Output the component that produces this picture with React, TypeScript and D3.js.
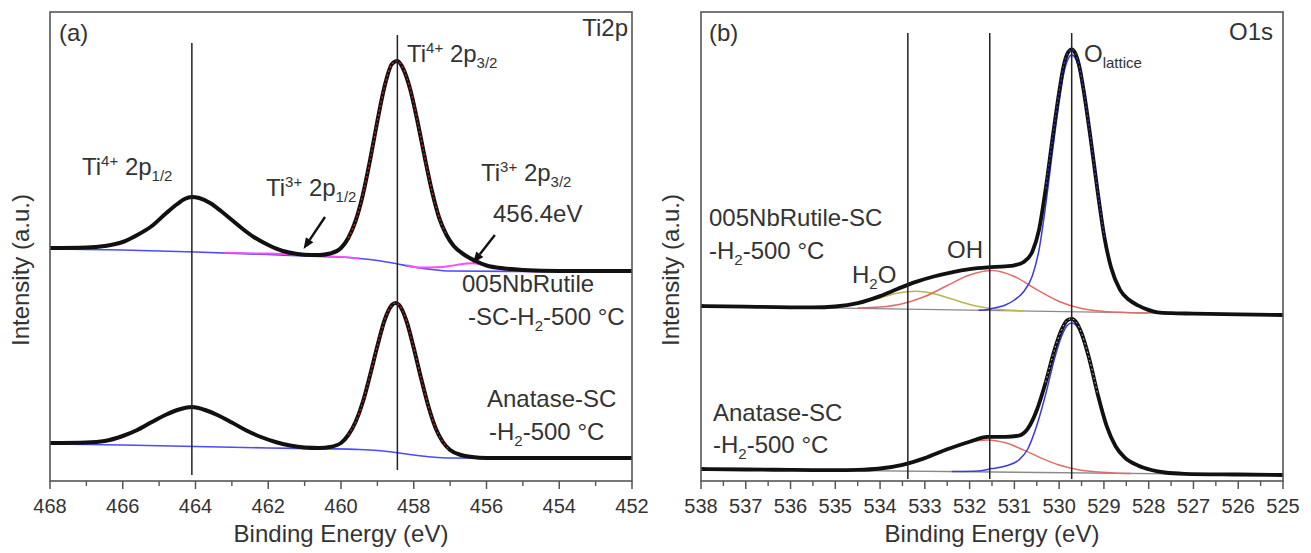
import React from 'react';
import * as d3 from 'd3';

type Pt = [number, number];

// ---- panel (a) Ti2p ----
const tiTicks = [468, 466, 464, 462, 460, 458, 456, 454, 452];
const tiPeakLines = [464.1, 458.45];

// 005NbRutile-SC-H2-500 (upper trace)
const tiNbData: Pt[] = [
  [468, 233], [467, 233.5], [466.5, 235], [466, 239], [465.6, 246], [465.2, 255], [464.8, 268],
  [464.5, 277], [464.3, 282], [464.1, 284], [463.9, 283], [463.6, 278], [463.3, 270], [463, 261],
  [462.7, 252], [462.4, 244], [462, 236], [461.6, 230], [461.2, 227], [460.8, 226], [460.6, 226],
  [460.3, 227.5], [460, 233], [459.8, 243], [459.6, 260], [459.4, 286], [459.2, 321], [459, 360],
  [458.8, 395], [458.6, 417], [458.45, 420], [458.3, 413], [458.1, 392], [457.9, 360], [457.7, 324],
  [457.5, 290], [457.3, 263], [457.1, 246], [456.9, 235], [456.6, 226], [456.3, 220], [456, 215.5],
  [455.5, 212.5], [455, 211], [454, 210], [452, 210],
];
const tiNbBackground: Pt[] = [
  [468, 232], [466, 231], [464, 229], [462, 226.5], [461, 225], [460, 224], [459.5, 222.5],
  [459, 220.5], [458.5, 217.5], [458, 214], [457.5, 211.5], [457, 210], [455, 209.5], [452, 209.5],
];
const tiNbTi3Low: Pt[] = [
  [463.2, 228.3], [462.6, 227.8], [462, 227.5], [461.5, 226.8], [461, 225.8], [460.5, 224.8],
  [460, 224.2], [459.5, 222.6],
];
const tiNbTi3High: Pt[] = [
  [458.2, 215.8], [457.8, 213.5], [457.4, 213.7], [457, 215], [456.7, 216.8], [456.4, 217.7],
  [456.1, 216.2], [455.8, 213.6], [455.4, 211], [455, 210], [454.6, 209.6],
];

// Anatase-SC-H2-500 (lower trace)
const tiAnaData: Pt[] = [
  [468, 38], [467, 38.5], [466.5, 40], [466, 45], [465.6, 51], [465.2, 59], [464.8, 66.5],
  [464.5, 71], [464.1, 74], [463.7, 70.5], [463.4, 66], [463, 58.5], [462.6, 50.5], [462.2, 44],
  [461.8, 39], [461.4, 35.5], [461, 33.5], [460.6, 33], [460.3, 34], [460, 38], [459.8, 46],
  [459.6, 59], [459.4, 79], [459.2, 106], [459, 135], [458.8, 161], [458.6, 176], [458.5, 178],
  [458.4, 176], [458.2, 160], [458, 133], [457.8, 103], [457.6, 75], [457.4, 53], [457.2, 39],
  [457, 31], [456.7, 26], [456.4, 24], [456, 23], [455, 23], [452, 23],
];
const tiAnaBackground: Pt[] = [
  [468, 37], [466, 36], [464, 34.5], [462, 33], [460.5, 32.2], [459.5, 31.5], [459, 30.5],
  [458.5, 28.5], [458, 26], [457.5, 24], [457, 23], [452, 22.5],
];

// ---- panel (b) O1s ----
const oTicks = [538, 537, 536, 535, 534, 533, 532, 531, 530, 529, 528, 527, 526, 525];
const oPeakLines = [533.38, 531.55, 529.72];

const oNbData: Pt[] = [
  [538, 175], [537, 174.3], [536, 173.7], [535.5, 173.6], [535, 174.5], [534.5, 177.8], [534, 184.9],
  [533.6, 192.3], [533.2, 199.1], [532.8, 204.5], [532.4, 208.7], [532, 211.9], [531.6, 213.7],
  [531.2, 214.6], [531, 215.7], [530.8, 218.8], [530.6, 229.3], [530.45, 251.2], [530.3, 292.4],
  [530.15, 342], [530, 389], [529.9, 415.2], [529.8, 428.7], [529.72, 431.6], [529.64, 427.7],
  [529.54, 412.7], [529.44, 386.9], [529.29, 340], [529.14, 289.3], [528.99, 243.8], [528.84, 213.5],
  [528.64, 191.2], [528.44, 181.2], [528.24, 175.6], [528.04, 171.6], [527.8, 168.6], [527.5, 167.8],
  [527, 167.4], [526, 166.7], [525, 166],
];
const oNbLattice: Pt[] = [
  [531.8, 170.7], [531.6, 171.5], [531.4, 173.5], [531.2, 176], [531, 181], [530.8, 189], [530.6, 205],
  [530.45, 231], [530.3, 276], [530.15, 329], [530, 379], [529.9, 407], [529.8, 422], [529.72, 426],
  [529.64, 423], [529.54, 409], [529.44, 384], [529.29, 338], [529.14, 288], [528.99, 243], [528.84, 213],
  [528.64, 191], [528.44, 181], [528.24, 175.5], [528.04, 171.5], [527.8, 168.5], [527.5, 167.7], [527, 167.4],
];
const oNbOH: Pt[] = [
  [534.5, 173], [534, 174], [533.5, 177.3], [533, 184.5], [532.5, 195.5], [532, 206], [531.5, 210.5],
  [531, 204.5], [530.5, 191.4], [530, 179.5], [529.5, 172.5], [529, 169.6], [528.5, 168.6], [528, 168.1],
];
const oNbH2O: Pt[] = [
  [536.5, 174], [535.5, 173.6], [535, 174.4], [534.5, 177.4], [534, 183.1], [533.6, 187.9], [533.2, 189.7],
  [532.8, 187.3], [532.4, 182], [532, 176.6], [531.6, 173], [531.2, 171.1], [530.8, 170.2],
];
const oNbBase: Pt[] = [[538, 175], [525, 166]];

const oAnaData: Pt[] = [
  [538, 12], [537, 11.5], [536, 11.1], [535.5, 10.9], [535, 10.8], [534.5, 11.1], [534, 12.5],
  [533.5, 16.2], [533, 22.9], [532.5, 31.7], [532, 39.3], [531.6, 44.1], [531.2, 44.2], [530.9, 45.4],
  [530.7, 52.4], [530.5, 70.8], [530.3, 98.8], [530.1, 131.6], [529.95, 150.9], [529.82, 160.7],
  [529.72, 162.2], [529.62, 158.9], [529.49, 146.5], [529.34, 124.3], [529.14, 87], [528.94, 55.1],
  [528.74, 34.8], [528.54, 23.6], [528.24, 15.5], [527.94, 11], [527.64, 8.5], [527.2, 7.2],
  [526, 6.5], [525, 6],
];
const oAnaLattice: Pt[] = [
  [532.4, 9.4], [531.8, 10], [531.5, 12.4], [531.2, 15], [530.9, 21], [530.7, 32], [530.5, 55.4], [530.3, 87],
  [530.1, 123], [529.95, 144.2], [529.82, 155.5], [529.72, 158], [529.62, 155.4], [529.49, 144],
  [529.34, 122.5], [529.14, 86], [528.94, 54.5], [528.74, 34.5], [528.54, 23.5], [528.24, 15.5],
  [527.94, 11], [527.64, 8.5], [527.2, 7.2],
];
const oAnaOH: Pt[] = [
  [534.5, 11.1], [534, 12.55], [533.5, 16.2], [533, 22.9], [532.5, 31.7], [532, 39], [531.6, 41.1],
  [531.2, 38.2], [530.8, 31.1], [530.4, 22.9], [530, 16], [529.6, 11.6], [529.2, 9.2], [528.8, 8.1], [528.4, 7.6],
];
const oAnaBase: Pt[] = [[538, 12], [525, 6]];

const FONT = '"Liberation Sans", Arial, Helvetica, sans-serif';
const TXT = '#333';
const TOP = 12;
const BOTTOM = 481;

const yScale = d3.scaleLinear().domain([0, 469]).range([BOTTOM, TOP]);

function Sub({ children }: { children: React.ReactNode }) {
  return <tspan fontSize={15} dy={6}>{children}</tspan>;
}
function Sup({ children }: { children: React.ReactNode }) {
  return <tspan fontSize={15} dy={-9}>{children}</tspan>;
}

function Panel({ x0, x1, domain, ticks, minor, clipId, children }: any) {
  const x = d3.scaleLinear().domain(domain).range([x0, x1]);
  return (
    <g>
      <defs>
        <clipPath id={clipId}>
          <rect x={x0} y={TOP} width={x1 - x0} height={BOTTOM - TOP} />
        </clipPath>
      </defs>
      <g clipPath={`url(#${clipId})`}>{children(x)}</g>
      <rect x={x0} y={TOP} width={x1 - x0} height={BOTTOM - TOP} fill="none" stroke="#555" strokeWidth={1.6} />
      {minor.map((t: number) => (
        <line key={'m' + t} x1={x(t)} x2={x(t)} y1={BOTTOM} y2={BOTTOM + 5} stroke="#555" strokeWidth={1.4} />
      ))}
      {ticks.map((t: number) => (
        <g key={t}>
          <line x1={x(t)} x2={x(t)} y1={BOTTOM} y2={BOTTOM + 8} stroke="#555" strokeWidth={1.5} />
          <text x={x(t)} y={513} textAnchor="middle" fontSize={20} fill={TXT}>{t}</text>
        </g>
      ))}
      <text x={(x0 + x1) / 2} y={542} textAnchor="middle" fontSize={24} fill={TXT}>Binding Energy (eV)</text>
    </g>
  );
}

function Arrow({ from, to }: { from: [number, number]; to: [number, number] }) {
  const [fx, fy] = from;
  const [tx, ty] = to;
  const a = Math.atan2(ty - fy, tx - fx);
  const L = 11, w = 4.5;
  const bx = tx - L * Math.cos(a), by = ty - L * Math.sin(a);
  const p1 = [bx + w * Math.sin(a), by - w * Math.cos(a)];
  const p2 = [bx - w * Math.sin(a), by + w * Math.cos(a)];
  return (
    <g>
      <line x1={fx} y1={fy} x2={bx} y2={by} stroke="#111" strokeWidth={2.4} />
      <polygon points={`${tx},${ty} ${p1[0]},${p1[1]} ${p2[0]},${p2[1]}`} fill="#111" />
    </g>
  );
}

export default function App() {
  const mk = (x: d3.ScaleLinear<number, number>) =>
    d3.line<Pt>().x(d => x(d[0])).y(d => yScale(d[1])).curve(d3.curveMonotoneX);

  const xTi = d3.scaleLinear().domain([468, 452]).range([50, 632]);

  return (
    <svg width={1311} height={553} style={{ position: 'absolute', left: 0, top: 0, background: '#fff' }} fontFamily={FONT}>
      {/* panel (a) */}
      <Panel x0={50} x1={632} domain={[468, 452]} ticks={tiTicks} minor={d3.range(467, 452, -2)} clipId="clipA">
        {(x: any) => {
          const line = mk(x);
          const peak = (d: Pt[]) => d.filter(p => p[0] <= 459.9 && p[0] >= 457.0);
          return (
            <g fill="none">
              <path d={line(tiNbBackground)!} stroke="#4b4bff" strokeWidth={1.7} />
              <path d={line(tiAnaBackground)!} stroke="#4b4bff" strokeWidth={1.7} />
              <path d={line(tiNbTi3Low)!} stroke="#ff4cff" strokeWidth={1.8} />
              <path d={line(tiNbTi3High)!} stroke="#ff4cff" strokeWidth={2} />
              <path d={line(tiNbData)!} stroke="#111" strokeWidth={4} />
              <path d={line(tiAnaData)!} stroke="#111" strokeWidth={4} />
              <path d={line(peak(tiNbData))!} stroke="#e02020" strokeWidth={1.2} strokeDasharray="2 2.5" />
              <path d={line(peak(tiAnaData))!} stroke="#e02020" strokeWidth={1.2} strokeDasharray="2 2.5" />
              {tiPeakLines.map((e, i) => (
                <line key={e} x1={x(e)} x2={x(e)} y1={yScale(i === 0 ? 438 : 446)} y2={yScale(i === 0 ? 6 : 11)}
                  stroke="#222" strokeWidth={1.5} />
              ))}
            </g>
          );
        }}
      </Panel>

      {/* panel (b) */}
      <Panel x0={701} x1={1283} domain={[538, 525]} ticks={oTicks} minor={d3.range(537.5, 525, -1)} clipId="clipB">
        {(x: any) => {
          const line = mk(x);
          const peak = (d: Pt[]) => d.filter(p => p[0] <= 530.3 && p[0] >= 528.95);
          return (
            <g fill="none">
              <path d={line(oNbBase)!} stroke="#8a8a8a" strokeWidth={1.3} />
              <path d={line(oAnaBase)!} stroke="#8a8a8a" strokeWidth={1.3} />
              <path d={line(oNbH2O)!} stroke="#b9b556" strokeWidth={1.5} />
              <path d={line(oNbOH)!} stroke="#e46a6a" strokeWidth={1.5} />
              <path d={line(oAnaOH)!} stroke="#e46a6a" strokeWidth={1.5} />
              <path d={line(oNbLattice)!} stroke="#3a3ae0" strokeWidth={1.5} />
              <path d={line(oAnaLattice)!} stroke="#3a3ae0" strokeWidth={1.5} />
              <path d={line(oNbData)!} stroke="#111" strokeWidth={3.8} />
              <path d={line(oAnaData)!} stroke="#111" strokeWidth={3.8} />
              <path d={line(peak(oNbData))!} stroke="#3a3ae0" strokeWidth={1.2} strokeDasharray="2 2.5" />
              <path d={line(peak(oAnaData))!} stroke="#ffffff" strokeWidth={0.8} strokeDasharray="1.5 3" />
              {oPeakLines.map(e => (
                <line key={e} x1={x(e)} x2={x(e)} y1={yScale(448)} y2={yScale(2)} stroke="#222" strokeWidth={1.5} />
              ))}
            </g>
          );
        }}
      </Panel>

      {/* arrows (a) */}
      <Arrow from={[xTi(460.44), yScale(264)]} to={[xTi(461.03), yScale(232)]} />
      <Arrow from={[xTi(455.77), yScale(246)]} to={[xTi(456.37), yScale(218)]} />

      {/* y axis titles */}
      <text transform="translate(29,270) rotate(-90)" textAnchor="middle" fontSize={24} fill={TXT}>Intensity (a.u.)</text>
      <text transform="translate(679,270) rotate(-90)" textAnchor="middle" fontSize={24} fill={TXT}>Intensity (a.u.)</text>

      <g fontSize={24} fill={TXT}>
        {/* panel (a) labels */}
        <text x={59} y={41}>(a)</text>
        <text x={628} y={36} textAnchor="end">Ti2p</text>
        <text x={407} y={62}>Ti<Sup>4+</Sup><tspan dy={9}> 2p</tspan><Sub>3/2</Sub></text>
        <text x={82} y={175}>Ti<Sup>4+</Sup><tspan dy={9}> 2p</tspan><Sub>1/2</Sub></text>
        <text x={266} y={196}>Ti<Sup>3+</Sup><tspan dy={9}> 2p</tspan><Sub>1/2</Sub></text>
        <text x={481} y={181}>Ti<Sup>3+</Sup><tspan dy={9}> 2p</tspan><Sub>3/2</Sub></text>
        <text x={493} y={222}>456.4eV</text>
        <text x={462} y={292}>005NbRutile</text>
        <text x={468} y={325}>-SC-H<Sub>2</Sub><tspan dy={-6}>-500 °C</tspan></text>
        <text x={487} y={407}>Anatase-SC</text>
        <text x={489} y={440}>-H<Sub>2</Sub><tspan dy={-6}>-500 °C</tspan></text>

        {/* panel (b) labels */}
        <text x={709} y={41}>(b)</text>
        <text x={1273} y={40} textAnchor="end">O1s</text>
        <text x={1084} y={62}>O<Sub>lattice</Sub></text>
        <text x={709} y={226}>005NbRutile-SC</text>
        <text x={709} y={259}>-H<Sub>2</Sub><tspan dy={-6}>-500 °C</tspan></text>
        <text x={947} y={258}>OH</text>
        <text x={852} y={283}>H<Sub>2</Sub><tspan dy={-6}>O</tspan></text>
        <text x={713} y={421}>Anatase-SC</text>
        <text x={713} y={453}>-H<Sub>2</Sub><tspan dy={-6}>-500 °C</tspan></text>
      </g>
    </svg>
  );
}
